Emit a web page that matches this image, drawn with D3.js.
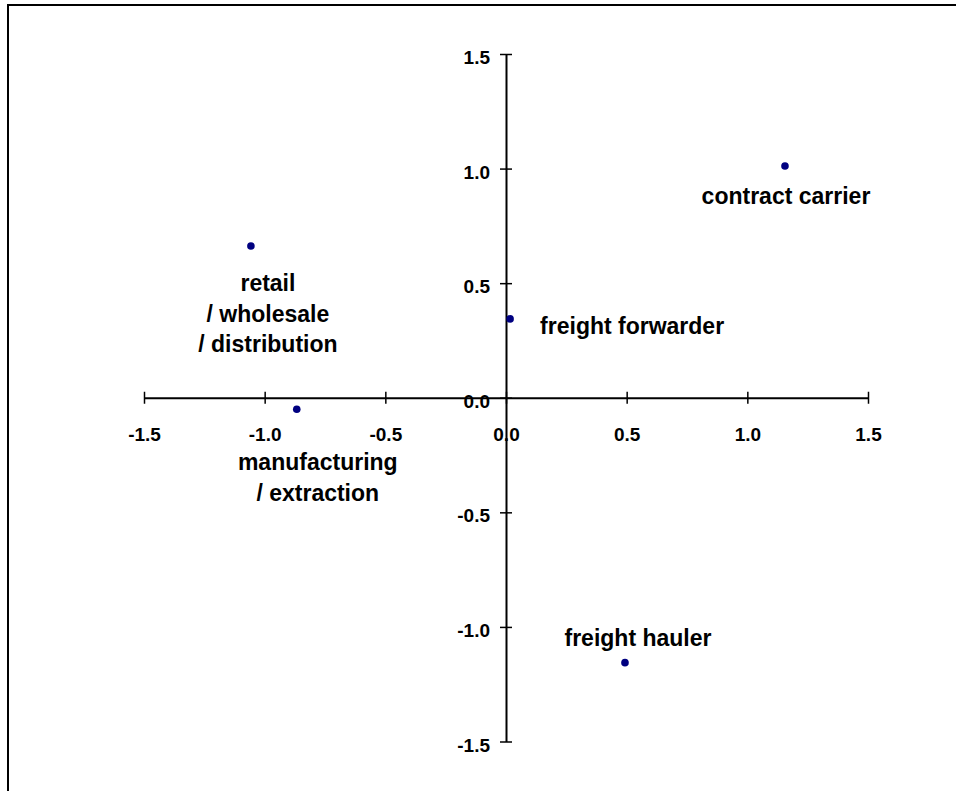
<!DOCTYPE html>
<html>
<head>
<meta charset="utf-8">
<script src="https://cdn.jsdelivr.net/npm/d3@7"></script>
<style>
  body { margin: 0; background: #fff; }
  svg text { font-family: "Liberation Sans", Arial, sans-serif; font-weight: bold; fill: #000; }
</style>
</head>
<body>
<div id="chart"></div>
<script>
// points
var names = ["contract carrier", "retail / wholesale / distribution", "freight forwarder", "manufacturing / extraction", "freight hauler"];
var xValues = [1.156, -1.057, 0.017, -0.867, 0.493];
var yValues = [1.011, 0.662, 0.344, -0.050, -1.156];
var xTicks = [-1.5, -1.0, -0.5, 0.0, 0.5, 1.0, 1.5];
var yTicks = [-1.5, -1.0, -0.5, 0.0, 0.5, 1.0, 1.5];

// label lines and their offsets (px) from the point
var labelLines = [["contract carrier"], ["retail", "/ wholesale", "/ distribution"], ["freight forwarder"], ["manufacturing", "/ extraction"], ["freight hauler"]];
var labelOffset = [[1, 38], [17, 45], [122, 15], [21, 61], [13, -17]];

var width = 956, height = 791;
var svg = d3.select("#chart").append("svg")
    .attr("width", width)
    .attr("height", height);

// outer frame
svg.append("rect")
    .attr("x", 8).attr("y", 5)
    .attr("width", 1000).attr("height", 900)
    .attr("fill", "none")
    .attr("stroke", "#000")
    .attr("stroke-width", 2);

var x = d3.scaleLinear().domain([-1.5, 1.5]).range([144, 868]);
var y = d3.scaleLinear().domain([-1.5, 1.5]).range([741.5, 54]);
var fmt = d => d3.format(".1f")(d).replace("\u2212", "-");

//x axis through origin
var xAxis = svg.append("g")
    .attr("transform", "translate(0," + y(0) + ")")
    .call(d3.axisBottom(x).tickValues(xTicks).tickFormat(fmt).tickSizeOuter(0));
xAxis.select(".domain").attr("stroke", "#000").attr("stroke-width", 2);
xAxis.selectAll(".tick line").attr("y1", -6).attr("y2", 6).attr("stroke-width", 1.5);
xAxis.selectAll(".tick text")
    .attr("y", 43).attr("dy", 0)
    .style("font-size", "19px");

//y axis through origin
var yAxis = svg.append("g")
    .attr("transform", "translate(" + x(0) + ",0)")
    .call(d3.axisLeft(y).tickValues(yTicks).tickFormat(fmt).tickSizeOuter(0));
yAxis.select(".domain").attr("stroke", "#000").attr("stroke-width", 2);
yAxis.selectAll(".tick line").attr("x1", -6).attr("x2", 6).attr("stroke-width", 1.5);
yAxis.selectAll(".tick text")
    .attr("x", -16).attr("dy", "0.5em")
    .style("font-size", "19px");

//points
svg.selectAll("circle.pt")
    .data(names)
    .enter()
    .append("circle")
    .classed("pt", true)
    .attr("cx", (d, i) => x(xValues[i]))
    .attr("cy", (d, i) => y(yValues[i]))
    .attr("r", 3.8)
    .attr("fill", "#000080");

//labels
var labels = svg.selectAll("text.lbl")
    .data(names)
    .enter()
    .append("text")
    .classed("lbl", true)
    .attr("text-anchor", "middle")
    .style("font-size", "23px")
    .attr("transform", (d, i) => "translate(" + (x(xValues[i]) + labelOffset[i][0]) + "," + (y(yValues[i]) + labelOffset[i][1]) + ")");

labels.selectAll("tspan")
    .data((d, i) => labelLines[i])
    .enter()
    .append("tspan")
    .attr("x", 0)
    .attr("y", (d, j) => j * 30.5)
    .text(d => d);
</script>
</body>
</html>
